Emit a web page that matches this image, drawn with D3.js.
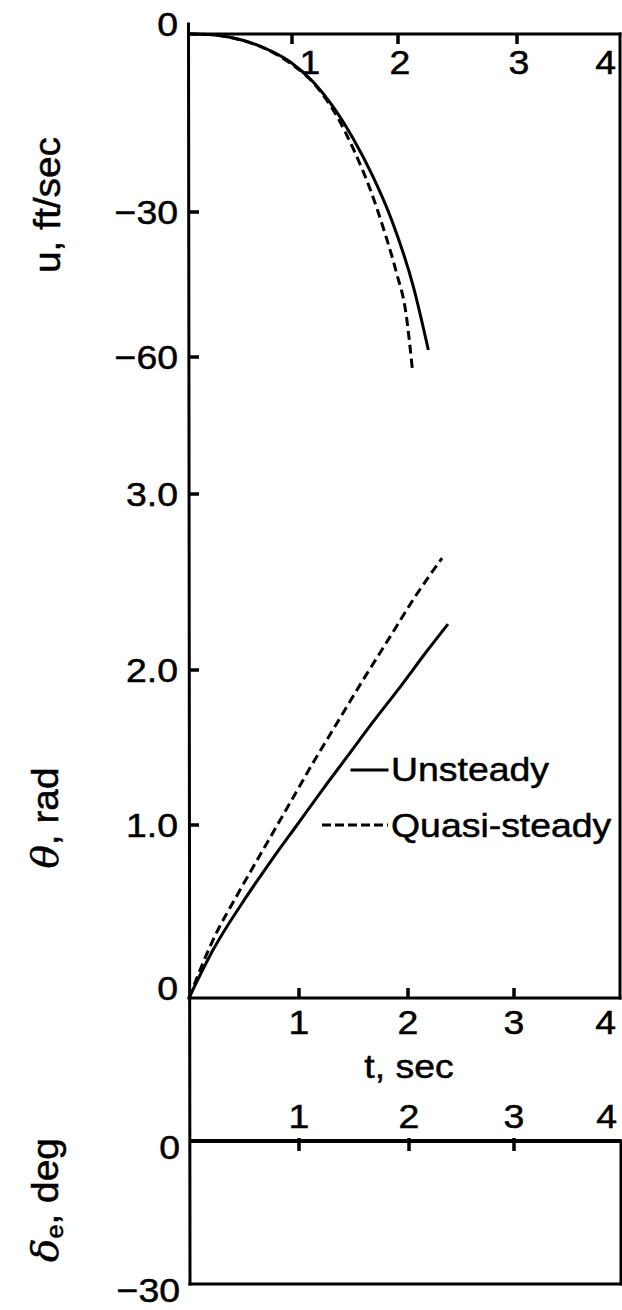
<!DOCTYPE html>
<html><head><meta charset="utf-8">
<script src="https://cdn.jsdelivr.net/npm/d3@7/dist/d3.min.js"></script>
<style>
body{margin:0;background:#fff}
svg text{font-family:"Liberation Sans",Arial,Helvetica,sans-serif;fill:#000;stroke:#000;stroke-width:0.5px}
</style>
</head><body>
<svg id="chart" width="622" height="1310"></svg>
<script>
// ---- data ----
const timeTicks = [1, 2, 3, 4];
const uTicks = [0, -30, -60];
const thetaTicks = [0, 1.0, 2.0, 3.0];
const deTicks = [0, -30];

const tU_unsteady = [0, 0.2, 0.398, 0.718, 0.981, 1.198, 1.387, 1.575, 1.764, 1.940, 2.129, 2.255];
const u_unsteady  = [0, -0.1, -0.56, -2.24, -4.67, -8.04, -12.25, -17.58, -24.05, -31.66, -45.46, -58.55];
const tU_quasi    = [0, 0.2, 0.398, 0.718, 0.981, 1.205, 1.426, 1.583, 1.740, 1.877, 1.987, 2.067, 2.120];
const u_quasi     = [0, -0.1, -0.56, -2.3, -4.9, -8.31, -13.94, -19.55, -26.29, -34.41, -42.68, -50.96, -62.34];

const tTh_unsteady = [0, 0.218, 0.527, 0.764, 0.982, 1.220, 1.440, 1.679, 1.927, 2.179, 2.377];
const th_unsteady  = [0, 0.277, 0.590, 0.809, 1.000, 1.232, 1.439, 1.665, 1.890, 2.108, 2.261];
const tTh_quasi    = [0, 0.218, 0.464, 0.709, 0.918, 1.128, 1.349, 1.587, 1.835, 2.047, 2.321];
const th_quasi     = [0, 0.335, 0.624, 0.896, 1.142, 1.400, 1.658, 1.935, 2.188, 2.398, 2.636];

const tDe = [0, 4];
const de  = [0, 0];

const legendLabels = ["Unsteady", "Quasi-steady"];

// ---- scales (scanned figure: slightly non-uniform, so polylinear) ----
const xTop = d3.scaleLinear().domain([0,1,2,3,4]).range([189,292,398,517,620]);
const xMid = d3.scaleLinear().domain([0,1,2,3,4]).range([189,299,408,514,620]);
const xBot = d3.scaleLinear().domain([0,1,2,3,4]).range([190,299,409,514,621]);
const yU  = d3.scaleLinear().domain([0,-30,-60]).range([34,212,357]);
const yTh = d3.scaleLinear().domain([0,1,2,3]).range([998,825,670,494]);
const yDe = d3.scaleLinear().domain([0,-30]).range([1141,1284]);

const svg = d3.select("#chart");
const SW = 3;

function line(x1,y1,x2,y2,w,cap){
  svg.append("line").attr("x1",x1).attr("y1",y1).attr("x2",x2).attr("y2",y2)
    .attr("stroke","#000").attr("stroke-width",w||SW).attr("stroke-linecap",cap||"square");
}
function tick(x1,y1,x2,y2){
  svg.append("path").attr("d",`M${x1},${y1}L${x2},${y2}`)
    .attr("stroke","#000").attr("stroke-width",3.5).attr("fill","none");
}
function label(x,y,txt,anchor,size){
  svg.append("text").attr("transform",`translate(${x},${y}) scale(1.1,1)`)
    .attr("text-anchor",anchor||"middle").attr("dy","0.36em")
    .style("font-size",(size||34)+"px").text(txt);
}
const fmtU = d => d===0 ? "0" : "\u2212"+Math.abs(d);
const fmtTh = d => d===0 ? "0" : d.toFixed(1);

// ---- frames ----
line(xTop(0)-0.5, yU(0)-10, xBot(0), yDe(-30));        // long left axis
line(xTop(0), yU(0), xTop(4), yU(0));                  // top axis
line(xTop(4), yU(0), xMid(4), yTh(0));                 // right border upper
line(xMid(0), yTh(0), xMid(4), yTh(0));                // middle time axis
line(xBot(0), yDe(-30), xBot(4), yDe(-30));            // bottom
line(xBot(4), yDe(0), xBot(4), yDe(-30));              // right border lower

// ---- ticks (inside) ----
timeTicks.slice(0,3).forEach(t=>{
  tick(xTop(t), yU(0), xTop(t), yU(0)+10);
  tick(xMid(t), yTh(0), xMid(t), yTh(0)-10);
  tick(xBot(t), yDe(0)-3, xBot(t), yDe(0)+10);
});
uTicks.slice(1).forEach(v=> tick(xTop(0), yU(v), xTop(0)+10, yU(v)));
thetaTicks.slice(1).forEach(v=> tick(xMid(0), yTh(v), xMid(0)+10, yTh(v)));

// ---- tick labels ----
timeTicks.forEach(t=>{
  const last = t===4;
  const off = t===1 ? 18 : 2;
  label(last ? xTop(t)-4 : xTop(t)+off, 62, String(t), last?"end":"middle");
  label(last ? xMid(t)-4 : xMid(t), 1022, String(t), last?"end":"middle");
  label(last ? xBot(t)-4 : xBot(t), 1116, String(t), last?"end":"middle");
});
uTicks.forEach(v=>{
  label(178, v===0 ? yU(v)-10 : yU(v), fmtU(v), "end");
});
thetaTicks.forEach(v=>{
  label(178, v===0 ? yTh(v)-10 : yTh(v), fmtTh(v), "end");
});
deTicks.forEach(v=>{
  label(180, yDe(v)+6, fmtU(v), "end");
});
label(409, 1066, "t, sec", "middle");

// ---- axis titles (rotated) ----
function vtitle(x,y,build){
  const t = svg.append("text").attr("transform",`translate(${x},${y}) rotate(-90) scale(1.05,1)`)
    .attr("text-anchor","middle").style("font-size","37px");
  build(t);
}
vtitle(60, 205, t=>t.text("u, ft/sec"));
vtitle(58, 818, t=>{
  t.append("tspan").style("font-style","italic").style("font-family","'DejaVu Serif',serif").text("\u03B8");
  t.append("tspan").text(", rad");
});
vtitle(58, 1200, t=>{
  t.append("tspan").style("font-style","italic").style("font-family","'DejaVu Serif',serif").text("\u03B4");
  t.append("tspan").attr("baseline-shift","-20%").style("font-size","24px").text("e");
  t.append("tspan").text(", deg");
});

// ---- data lines ----
const gen = (xs,ys,tArr,vArr) => d3.line().curve(d3.curveMonotoneX)
  .x((d,i)=>xs(tArr[i])).y((d,i)=>ys(vArr[i]))(tArr);

function series(xs,ys,tArr,vArr,dashed,w){
  svg.append("path").attr("d",gen(xs,ys,tArr,vArr)).attr("fill","none")
    .attr("stroke","#000").attr("stroke-width",w||3)
    .attr("stroke-dasharray",dashed?"9,5":null);
}
series(xTop,yU,tU_quasi,u_quasi,true);
series(xTop,yU,tU_unsteady,u_unsteady,false);
series(xMid,yTh,tTh_quasi,th_quasi,true);
series(xMid,yTh,tTh_unsteady,th_unsteady,false);
series(xBot,yDe,tDe,de,false,4);

// ---- legend ----
line(352,770,387,770,3);
svg.append("line").attr("x1",322).attr("y1",825).attr("x2",388).attr("y2",825)
  .attr("stroke","#000").attr("stroke-width",3).attr("stroke-dasharray","9,4");
label(391,769,legendLabels[0],"start");
label(391,825,legendLabels[1],"start");
</script>
</body></html>
